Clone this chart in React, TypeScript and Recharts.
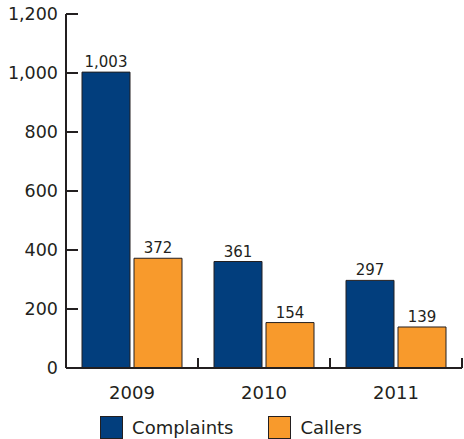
import { BarChart, Bar, XAxis, YAxis, Legend, LabelList } from "recharts";

const years = ["2009", "2010", "2011"];
const complaints = [1003, 361, 297];
const callers = [372, 154, 139];
const yTicks = [0, 200, 400, 600, 800, 1000, 1200];
const seriesOrder = ["Complaints", "Callers"];

const data = years.map((year, i) => ({
  year,
  complaints: complaints[i],
  callers: callers[i],
}));

const FONT = "'DejaVu Sans', sans-serif";
const INK = "#231f20";
const NAVY = "#023e7d";
const ORANGE = "#f89a2c";

const fmt = (v: number) => v.toLocaleString("en-US");

function YTick(props: any) {
  const { x, y, payload } = props;
  return (
    <g>
      <line x1={x + 8} x2={x + 20} y1={y} y2={y} stroke={INK} strokeWidth={2} />
      <text x={x} y={y} dy="0.36em" textAnchor="end" fontSize={17.5} fill={INK} fontFamily={FONT}>
        {fmt(payload.value)}
      </text>
    </g>
  );
}

function XTick(props: any) {
  const { x, y, payload, width } = props;
  const band = width / years.length;
  const axisY = y - 18;
  return (
    <g>
      <line x1={x + band / 2} x2={x + band / 2} y1={axisY} y2={axisY - 10} stroke={INK} strokeWidth={2} />
      <text x={x} y={y} dy="0.71em" textAnchor="middle" fontSize={18} fill={INK} fontFamily={FONT}>
        {payload.value}
      </text>
    </g>
  );
}

function LegendContent(props: any) {
  const payload = [...(props.payload || [])].sort(
    (a: any, b: any) => seriesOrder.indexOf(a.value) - seriesOrder.indexOf(b.value)
  );
  return (
    <div
      style={{
        height: 31,
        display: "flex",
        justifyContent: "center",
        alignItems: "flex-end",
        gap: 35,
        fontFamily: FONT,
        fontSize: 18,
        color: INK,
      }}
    >
      {payload.map((p: any) => (
        <div key={p.value} style={{ display: "flex", alignItems: "center", gap: 9 }}>
          <span
            style={{
              width: 21,
              height: 21,
              background: p.color,
              border: `1px solid ${INK}`,
              display: "inline-block",
            }}
          />
          <span>{p.value}</span>
        </div>
      ))}
    </div>
  );
}

export default function App() {
  return (
    <div style={{ position: "absolute", left: 0, top: 0, width: 464, height: 439, background: "#fff" }}>
      <BarChart
        width={464}
        height={439}
        data={data}
        margin={{ top: 14, right: 2, bottom: 0, left: 0 }}
        barSize={48}
        barGap={4}
      >
        <XAxis
          dataKey="year"
          height={40}
          tickSize={0}
          tickMargin={18}
          tickLine={false}
          axisLine={{ stroke: INK, strokeWidth: 2 }}
          tick={<XTick />}
          interval={0}
        />
        <YAxis
          width={66}
          domain={[0, 1200]}
          ticks={yTicks}
          interval={0}
          tickSize={0}
          tickMargin={8}
          tickLine={false}
          axisLine={{ stroke: INK, strokeWidth: 2 }}
          tick={<YTick />}
        />
        <Legend verticalAlign="bottom" content={<LegendContent />} />
        <Bar dataKey="complaints" name="Complaints" fill={NAVY} stroke={INK} strokeWidth={1} isAnimationActive={false}>
          <LabelList dataKey="complaints" position="top" offset={5} formatter={(v: any) => fmt(Number(v))} style={{ fontSize: 15, fill: INK, fontFamily: FONT }} />
        </Bar>
        <Bar dataKey="callers" name="Callers" fill={ORANGE} stroke={INK} strokeWidth={1} isAnimationActive={false}>
          <LabelList dataKey="callers" position="top" offset={5} formatter={(v: any) => fmt(Number(v))} style={{ fontSize: 15, fill: INK, fontFamily: FONT }} />
        </Bar>
      </BarChart>
    </div>
  );
}
